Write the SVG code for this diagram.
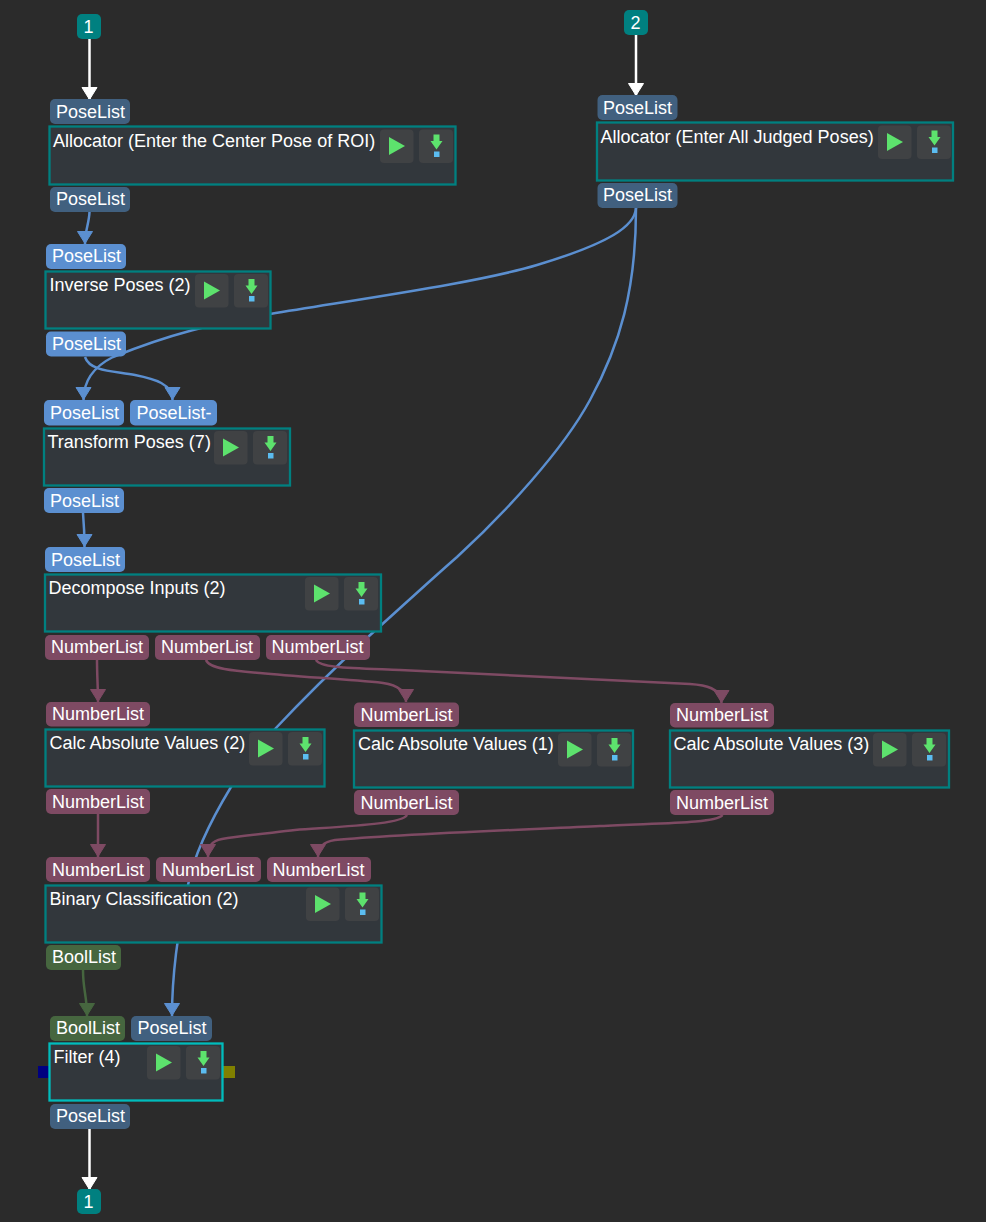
<svg xmlns="http://www.w3.org/2000/svg" xmlns:xlink="http://www.w3.org/1999/xlink" width="986" height="1222" viewBox="0 0 986 1222">
<style>
text{font-family:"Liberation Sans",Arial,sans-serif;font-size:18px;fill:#fff}
.box{fill:#32373c;stroke:#008080;stroke-width:2.300}
.sel{stroke:#00bcbc}
.pd{fill:#41607f}.pl{fill:#5b8fd0}.pn{fill:#7e4a63}.pb{fill:#46663f}.bd{fill:#008080}
.w{fill:none;stroke-width:2.500}
.ww{stroke:#fff;marker-end:url(#aw)}
.wb{stroke:#5b8fd0}.wba{marker-end:url(#ab)}
.wn{stroke:#7e4a63;marker-end:url(#an)}
.wg{stroke:#46663f;marker-end:url(#ag)}
</style>
<defs>
<marker id="aw" markerUnits="userSpaceOnUse" markerWidth="18" markerHeight="18" refX="13" refY="9" orient="auto"><path d="M0.500,1.500L12.500,9L0.500,16.500z" fill="#fff" stroke="#fff" stroke-linejoin="round"/></marker>
<marker id="ab" markerUnits="userSpaceOnUse" markerWidth="18" markerHeight="18" refX="13" refY="9" orient="auto"><path d="M0.500,1.500L12.500,9L0.500,16.500z" fill="#5b8fd0" stroke="#5b8fd0" stroke-linejoin="round"/></marker>
<marker id="an" markerUnits="userSpaceOnUse" markerWidth="18" markerHeight="18" refX="13" refY="9" orient="auto"><path d="M0.500,1.500L12.500,9L0.500,16.500z" fill="#7e4a63" stroke="#7e4a63" stroke-linejoin="round"/></marker>
<marker id="ag" markerUnits="userSpaceOnUse" markerWidth="18" markerHeight="18" refX="13" refY="9" orient="auto"><path d="M0.500,1.500L12.500,9L0.500,16.500z" fill="#46663f" stroke="#46663f" stroke-linejoin="round"/></marker>
<g id="btns">
<rect x="0" y="0" width="33.500" height="33.500" rx="4" fill="#404244"/>
<rect x="39" y="0" width="34" height="33.500" rx="4" fill="#404244"/>
<path d="M9,7.500L25,16.500L9,25.500z" fill="#5de26d"/>
<path d="M53.500,5H59.500V11.500H62.500L56.500,20L50.500,11.500H53.500z" fill="#5de26d"/>
<rect x="54" y="22" width="5.500" height="5.500" fill="#5bbcf0"/>
</g>
</defs>
<rect width="986" height="1222" fill="#2b2b2b"/>
<g id="connectors">
<path class="w ww" d="M89.500,39V100"/>
<path class="w ww" d="M636,35V96"/>
<path class="w ww" d="M89.500,1129V1190"/>
<path class="w wb wba" d="M89.500,212C89,224 85,230 85,244"/>
<path class="w wb wba" d="M636,208C635,226 610,243 537,265C480,282 380,296 270,314C215,323 170,334 113,357C97,365 83.500,378 83.500,400"/>
<path class="w wb wba" d="M85,357C90,372 115,371 135,375C155,379 172.500,384 172.500,400"/>
<path class="w wb wba" d="M83,513C84,525 84.500,535 84.500,547"/>
<path class="w wb wba" d="M636,208C636,290 620,345 590,400C563,450 505,513 457,557C425,585 395,613 368,637C340,663 305,697 275,729C258,747 245,765 231,787C214,815 195,850 188,885C178,930 172,970 172,1016"/>
<path class="w wn" d="M97,660C97,675 98,688 98,702"/>
<path class="w wn" d="M206,660C209,669 235,671 260,673C300,677 345,679 383,683C397,685 406,690 406,702"/>
<path class="w wn" d="M316,660C320,668 350,668 400,670C480,674 610,680 690,684C705,685 721.500,688 721.500,703"/>
<path class="w wn" d="M98,814V857"/>
<path class="w wn" d="M407,815C402,824 350,826 295,830C270,833 240,836 222,839C211,841 208,847 208,857"/>
<path class="w wn" d="M722.500,815C716,824 650,823 600,826C540,829 400,834 335,840C322,842 318,848 318,857"/>
<path class="w wg" d="M83,970C83,990 87,996 87,1016"/>
</g>
<g id="in1"><rect class="bd" x="77" y="14" width="24" height="25" rx="5"/><text x="88.500" y="33" text-anchor="middle">1</text></g>
<g id="in2"><rect class="bd" x="624" y="10" width="24" height="25" rx="5"/><text x="635.500" y="29" text-anchor="middle">2</text></g>
<g id="out1"><rect class="bd" x="77" y="1189" width="24" height="25" rx="5"/><text x="88.500" y="1208" text-anchor="middle">1</text></g>
<g id="allocator-roi">
<rect class="pd" x="50" y="99" width="80" height="25" rx="5"/><text x="56" y="118">PoseList</text>
<rect class="box" x="49.500" y="126.500" width="406" height="58"/><text x="53" y="147">Allocator (Enter the Center Pose of ROI)</text>
<use href="#btns" x="380" y="129.500"/>
<rect class="pd" x="50" y="187" width="80" height="25" rx="5"/><text x="56" y="205">PoseList</text>
</g>
<g id="allocator-judged">
<rect class="pd" x="597.500" y="95" width="80" height="25" rx="5"/><text x="603" y="114">PoseList</text>
<rect class="box" x="597" y="122.500" width="356" height="58"/><text x="600.500" y="143">Allocator (Enter All Judged Poses)</text>
<use href="#btns" x="878" y="125.500"/>
<rect class="pd" x="597.500" y="183" width="80" height="25" rx="5"/><text x="603" y="201">PoseList</text>
</g>
<g id="inverse-poses">
<rect class="pl" x="46" y="244" width="80" height="25" rx="5"/><text x="52" y="262">PoseList</text>
<rect class="box" x="45.500" y="271.500" width="225" height="57"/><text x="49.500" y="291">Inverse Poses (2)</text>
<use href="#btns" x="195" y="274"/>
<rect class="pl" x="46" y="331.500" width="80" height="25" rx="5"/><text x="52" y="350">PoseList</text>
</g>
<g id="transform-poses">
<rect class="pl" x="44" y="400" width="80" height="25.500" rx="5"/><text x="50" y="419">PoseList</text>
<rect class="pl" x="130" y="400" width="87" height="25.500" rx="5"/><text x="136.500" y="419">PoseList-</text>
<rect class="box" x="44" y="428.500" width="246" height="57"/><text x="47.500" y="448">Transform Poses (7)</text>
<use href="#btns" x="214" y="431"/>
<rect class="pl" x="44" y="488" width="80" height="25" rx="5"/><text x="50" y="507">PoseList</text>
</g>
<g id="decompose">
<rect class="pl" x="45" y="547" width="80" height="25" rx="5"/><text x="51" y="566">PoseList</text>
<rect class="box" x="45" y="574.500" width="336" height="57"/><text x="48.500" y="594">Decompose Inputs (2)</text>
<use href="#btns" x="305" y="577"/>
<rect class="pn" x="45" y="635" width="104" height="25" rx="5"/><text x="51" y="653">NumberList</text>
<rect class="pn" x="155" y="635" width="105" height="25" rx="5"/><text x="161" y="653">NumberList</text>
<rect class="pn" x="266" y="635" width="104" height="25" rx="5"/><text x="271.500" y="653">NumberList</text>
</g>
<g id="calc2">
<rect class="pn" x="46" y="702" width="104" height="24.500" rx="5"/><text x="52" y="720">NumberList</text>
<rect class="box" x="45.500" y="729.500" width="279" height="57"/><text x="49.500" y="749">Calc Absolute Values (2)</text>
<use href="#btns" x="249" y="732"/>
<rect class="pn" x="46" y="789" width="104" height="25" rx="5"/><text x="52" y="808">NumberList</text>
</g>
<g id="calc1">
<rect class="pn" x="354" y="702.500" width="105" height="24.500" rx="5"/><text x="360.500" y="721">NumberList</text>
<rect class="box" x="354" y="730.500" width="279" height="57"/><text x="358" y="750">Calc Absolute Values (1)</text>
<use href="#btns" x="558" y="733"/>
<rect class="pn" x="354" y="790" width="105" height="25" rx="5"/><text x="360.500" y="809">NumberList</text>
</g>
<g id="calc3">
<rect class="pn" x="670" y="703" width="104" height="24.500" rx="5"/><text x="676" y="721">NumberList</text>
<rect class="box" x="670" y="730.500" width="279" height="57"/><text x="673.500" y="750">Calc Absolute Values (3)</text>
<use href="#btns" x="873" y="733"/>
<rect class="pn" x="670" y="790" width="104" height="25" rx="5"/><text x="676" y="809">NumberList</text>
</g>
<g id="binary">
<rect class="pn" x="46" y="857" width="104" height="25" rx="5"/><text x="52" y="876">NumberList</text>
<rect class="pn" x="156" y="857" width="105" height="25" rx="5"/><text x="162" y="876">NumberList</text>
<rect class="pn" x="267" y="857" width="104" height="25" rx="5"/><text x="272.500" y="876">NumberList</text>
<rect class="box" x="45.500" y="885.500" width="336" height="57"/><text x="49.500" y="905">Binary Classification (2)</text>
<use href="#btns" x="306" y="887.500"/>
<rect class="pb" x="46" y="945" width="75" height="25" rx="5"/><text x="52" y="963">BoolList</text>
</g>
<g id="filter">
<rect class="pb" x="50" y="1016" width="75" height="25" rx="5"/><text x="56" y="1034">BoolList</text>
<rect class="pd" x="131" y="1016" width="81" height="25" rx="5"/><text x="137.500" y="1034">PoseList</text>
<rect fill="#000080" x="38" y="1066" width="12" height="12"/>
<rect fill="#808000" x="223" y="1066" width="12" height="12"/>
<rect class="box sel" x="49.500" y="1043.500" width="173" height="57"/><text x="53.500" y="1063">Filter (4)</text>
<use href="#btns" x="147" y="1046"/>
<rect class="pd" x="50" y="1104" width="80" height="25" rx="5"/><text x="56" y="1122">PoseList</text>
</g>
</svg>
